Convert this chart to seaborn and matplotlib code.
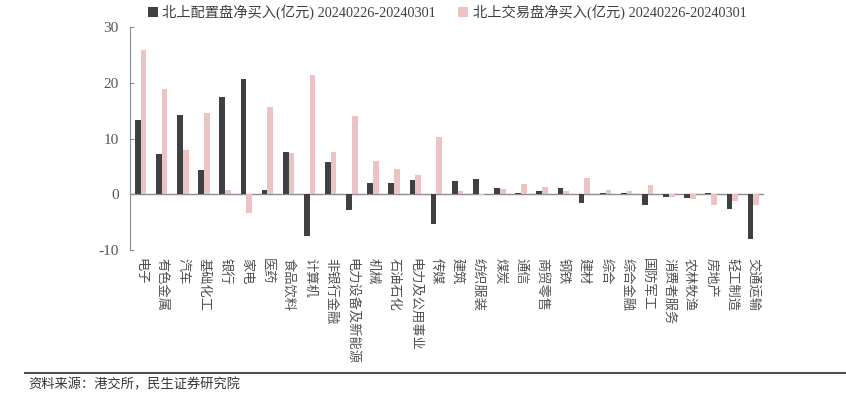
import matplotlib
matplotlib.use("Agg")
import matplotlib.pyplot as plt
import seaborn as sns
import pandas as pd
from matplotlib.patches import Patch

categories = ["电子", "有色金属", "汽车", "基础化工", "银行", "家电", "医药", "食品饮料",
              "计算机", "非银行金融", "电力设备及新能源", "机械", "石油石化", "电力及公用事业",
              "传媒", "建筑", "纺织服装", "煤炭", "通信", "商贸零售", "钢铁", "建材", "综合",
              "综合金融", "国防军工", "消费者服务", "农林牧渔", "房地产", "轻工制造", "交通运输"]
peizhi = [13.4, 7.3, 14.3, 4.4, 17.4, 20.7, 0.8, 7.5, -7.5, 5.8, -2.8, 2.0, 2.1, 2.5,
          -5.3, 2.3, 2.7, 1.1, 0.2, 0.5, 1.2, -1.6, 0.3, 0.3, -1.9, -0.5, -0.7, 0.2, -2.6, -8.1]
jiaoyi = [25.9, 18.9, 7.9, 14.6, 0.7, -3.4, 15.6, 7.4, 21.4, 7.5, 14.0, 6.0, 4.6, 3.5,
          10.3, 0.5, -0.1, 1.0, 1.9, 1.3, 0.5, 2.9, 0.8, 0.5, 1.7, -0.5, -0.9, -1.9, -1.3, -1.9]
series_names = ["北上配置盘净买入(亿元) 20240226-20240301", "北上交易盘净买入(亿元) 20240226-20240301"]
yticks = [-10, 0, 10, 20, 30]
source = "资料来源：港交所，民生证券研究院"

colors = ["#404040", "#ebc3c3"]

df = pd.DataFrame({
    "cat": categories * 2,
    "val": peizhi + jiaoyi,
    "series": [series_names[0]] * len(categories) + [series_names[1]] * len(categories),
})

serif = ["Liberation Serif", "Noto Sans CJK SC"]
plt.rcParams["font.family"] = serif

fig = plt.figure(figsize=(8.46, 3.98), dpi=100)
ax = fig.add_axes([130 / 846, 1 - 250 / 398, (764 - 130) / 846, (250 - 27) / 398])

sns.barplot(data=df, x="cat", y="val", hue="series", palette=colors, width=0.54,
            ax=ax, legend=False, saturation=1, edgecolor="none")

ax.set_xlim(-0.5, len(categories) - 0.5)
ax.set_ylim(-10, 30)
ax.set_yticks(yticks)
ax.set_yticklabels([str(t) for t in yticks], fontsize=11, color="#555555")
ax.axhline(0, color="#8c8c8c", lw=1, zorder=0.5)
for s in ["top", "right", "bottom"]:
    ax.spines[s].set_visible(False)
ax.spines["left"].set_color("#8c8c8c")
ax.spines["left"].set_linewidth(0.8)
ax.tick_params(axis="y", direction="in", length=3, color="#8c8c8c", pad=8)
ax.tick_params(axis="x", length=0, pad=6)
ax.set_xticks(range(len(categories)))
ax.set_xticklabels(categories, rotation=270, fontsize=9.5, color="#505050",
                   ha="center", va="top", family=["Noto Sans CJK SC"])
ax.set_xlabel("")
ax.set_ylabel("")

handles = [Patch(facecolor=c, edgecolor="none") for c in colors]
fig.legend(handles, series_names, loc="center", bbox_to_anchor=(447 / 846, 1 - 12 / 398),
           ncol=2, frameon=False, fontsize=10.3, handlelength=0.7, handleheight=0.7,
           handletextpad=0.3, columnspacing=1.6, labelcolor="#404040")

fig.add_artist(plt.Line2D([25 / 846, 1.0], [1 - 373 / 398] * 2, color="#505050", lw=1.5,
                          transform=fig.transFigure))
fig.text(28 / 846, 1 - 385 / 398, source, fontsize=9.5, color="#333333", va="center",
         ha="left", family=["Noto Sans CJK SC"])

fig.savefig("out.png", dpi=100)
